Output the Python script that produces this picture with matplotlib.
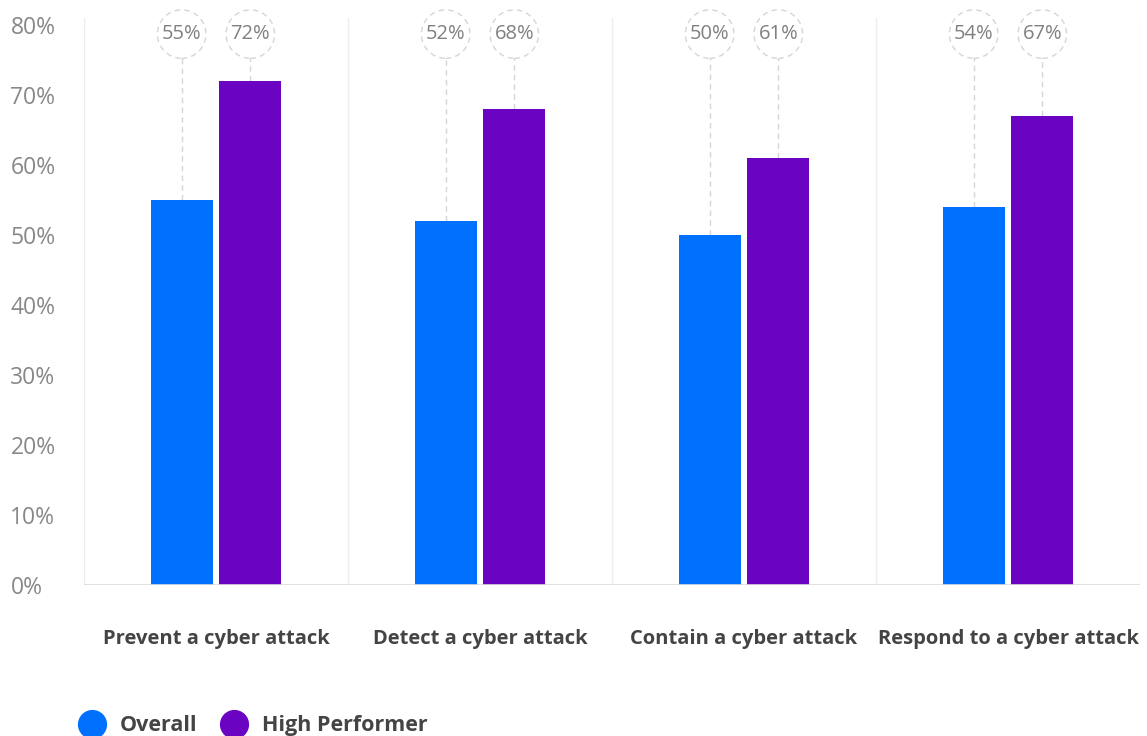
import matplotlib.pyplot as plt
import numpy as np
from matplotlib.lines import Line2D

plt.rcParams['font.family'] = ['Open Sans', 'DejaVu Sans']

categories = ['Prevent a cyber attack', 'Detect a cyber attack',
              'Contain a cyber attack', 'Respond to a cyber attack']
overall = [55, 52, 50, 54]
high_perf = [72, 68, 61, 67]
series_names = ['Overall', 'High Performer']
colors = ['#0070ff', '#6a04c2']

fig = plt.figure(figsize=(11.47, 7.36), dpi=100)
ax = fig.add_axes([84 / 1147, 151 / 736, (1140 - 84) / 1147, (585 - 18) / 736])

x = np.arange(len(categories))
w = 0.235
off = 0.13
label_y = 78.7

for vals, dx, c in [(overall, -off, colors[0]), (high_perf, off, colors[1])]:
    ax.bar(x + dx, vals, width=w, color=c, zorder=3)
    for xi, v in zip(x + dx, vals):
        ax.vlines(xi, v, label_y, colors='#d6d6d6', linestyles=(0, (4, 3)), lw=1, zorder=2)
        ax.text(xi, label_y, f'{v}%', ha='center', va='center', fontsize=14.5,
                color='#808080', zorder=4,
                bbox=dict(boxstyle='circle,pad=0.22', fc='white', ec='#d6d6d6',
                          ls=(0, (4, 3)), lw=1))

ax.set_xlim(-0.5, len(categories) - 0.5)
ax.set_ylim(0, 81)
for b in np.arange(-0.5, len(categories), 1.0):
    ax.axvline(b, color='#ececec', lw=1, zorder=1)
ax.axhline(0, color='#dcdcdc', lw=1.2, zorder=4)

for s in ax.spines.values():
    s.set_visible(False)

ax.set_yticks(np.arange(0, 81, 10))
ax.set_yticklabels([f'{t}%' for t in range(0, 81, 10)], fontsize=16.5, color='#888888', ha='left')
ax.tick_params(axis='y', length=0, pad=53)
ax.set_xticks(x)
ax.set_xticklabels(categories, fontsize=14.5, fontweight='bold', color='#444444')
ax.tick_params(axis='x', length=0, pad=32)

handles = [Line2D([], [], marker='o', ls='', markersize=20, markerfacecolor=c, markeredgecolor=c)
           for c in colors]
leg = fig.legend(handles, series_names, loc='lower left', bbox_to_anchor=(51 / 1147, -0.027),
                 ncol=2, frameon=False, handletextpad=0.3, columnspacing=0.7,
                 prop=dict(size=15.5, weight='bold'))
for t in leg.get_texts():
    t.set_color('#444444')

fig.savefig('out.png', dpi=100)
